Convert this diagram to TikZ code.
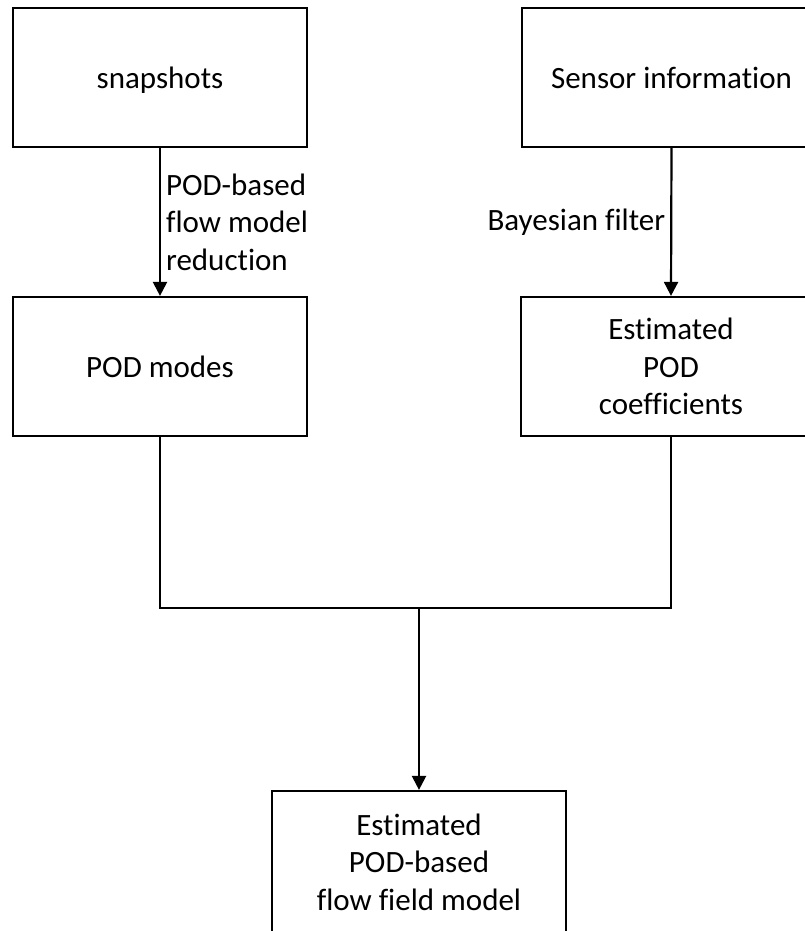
\documentclass[tikz,border=0pt]{standalone}
\usepackage{fontspec}
\setmainfont{Carlito}[Ligatures={NoCommon,NoContextual},Contextuals={NoAlternate}]
\usetikzlibrary{arrows.meta}
\begin{document}
\begin{tikzpicture}[x=1pt,y=-1pt,
  box/.style={draw=black,line width=2.2pt,rectangle,inner sep=0pt,align=center,
    font=\fontsize{31}{37.5}\selectfont},
  oneline/.style={text depth=0pt},
  conn/.style={line width=2.2pt},
  arr/.style={line width=2.2pt,-{Triangle[length=14pt,width=14pt]}},
  lbl/.style={font=\fontsize{31}{37.5}\selectfont,inner sep=5pt}]
\useasboundingbox (0,0) rectangle (805,931);
\node[box,oneline,minimum width=294pt,minimum height=139pt] (snap) at (160,77.5) {snapshots};
\node[box,oneline,minimum width=299pt,minimum height=139pt] (sens) at (671.5,77.5) {Sensor informat\kern0pt ion};
\node[box,oneline,minimum width=294pt,minimum height=139pt] (modes) at (160,366.5) {POD modes};
\node[box,minimum width=300pt,minimum height=139pt] (coef) at (671,366.5) {Estimated\\POD\\coefficients};
\node[box,minimum width=294pt,minimum height=142pt] (final) at (419,862) {Estimated\\POD-based\\flow field model};
\draw[arr] (snap.south) -- node[lbl,right,align=left] {POD-based\\flow model\\reduction} (modes.north);
\draw[arr] (sens.south) -- node[lbl,left] {Bayesian filter} (coef.north);
\coordinate (jl) at (modes.south |- 0,608);
\coordinate (jr) at (coef.south |- 0,608);
\coordinate (jm) at (final.north |- 0,608);
\draw[conn] (modes.south) -- (jl) -- (jr) -- (coef.south);
\draw[arr] (jm) -- (final.north);
\end{tikzpicture}
\end{document}
